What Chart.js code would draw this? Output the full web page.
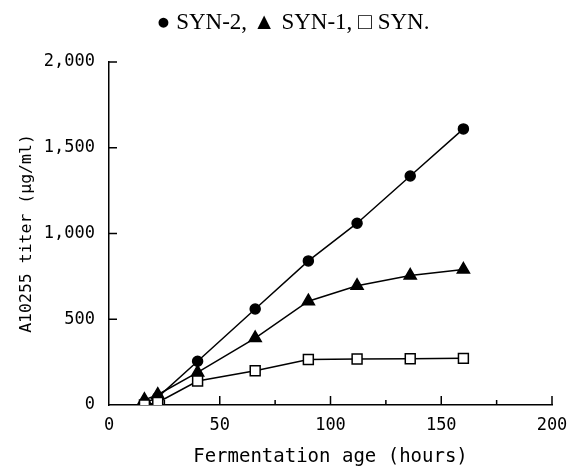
<!DOCTYPE html>
<html>
<head>
<meta charset="utf-8">
<script src="https://cdn.jsdelivr.net/npm/chart.js@4.4.1/dist/chart.umd.min.js"></script>
<style>
  html, body { margin: 0; padding: 0; background: #fff; }
  #wrap { width: 570px; height: 469px; }
</style>
</head>
<body>
<div id="wrap"><canvas id="titerChart"></canvas></div>
<script>
// fermentation age (hours) and A10255 titer (ug/ml)
const hours = [16, 22, 40, 66, 90, 112, 136, 160];
const syn2 = [10, 45, 255, 560, 840, 1060, 1335, 1610];
const syn1 = [30, 60, 190, 390, 605, 695, 755, 790];
const syn = [0, 15, 140, 200, 265, 268, 270, 272];
const xTicks = [0, 50, 100, 150, 200];
const xMinorTicks = [25, 75, 125, 175];
const yTicks = [0, 500, 1000, 1500, 2000];

const toPoints = vals => vals.map((v, i) => ({ x: hours[i], y: v }));

// tick marks point into the plot, like the original figure
const innerTicks = {
  id: 'innerTicks',
  afterDatasetsDraw(chart) {
    const { ctx, scales: { x, y } } = chart;
    ctx.save();
    ctx.strokeStyle = '#000';
    ctx.lineWidth = 1.5;
    ctx.beginPath();
    xTicks.slice(1).forEach(t => {
      const px = x.getPixelForValue(t);
      ctx.moveTo(px, y.bottom);
      ctx.lineTo(px, y.bottom - 9);
    });
    xMinorTicks.forEach(t => {
      const px = x.getPixelForValue(t);
      ctx.moveTo(px, y.bottom);
      ctx.lineTo(px, y.bottom - 5);
    });
    yTicks.slice(1).forEach(t => {
      const py = y.getPixelForValue(t);
      ctx.moveTo(x.left, py);
      ctx.lineTo(x.left + 8, py);
    });
    ctx.stroke();
    ctx.restore();
  }
};

const tickFont = { family: 'DejaVu Sans Mono', size: 17 };
const lineStyle = { borderColor: '#000', borderWidth: 1.5, pointBorderColor: '#000', pointBorderWidth: 1.5, tension: 0 };

new Chart(document.getElementById('titerChart'), {
  type: 'line',
  data: {
    datasets: [
      { label: 'SYN', data: toPoints(syn), ...lineStyle, pointStyle: 'rect', pointRadius: 7, pointBackgroundColor: '#fff' },
      { label: 'SYN-1', data: toPoints(syn1), ...lineStyle, pointStyle: 'triangle', pointRadius: 7, pointBackgroundColor: '#000' },
      { label: 'SYN-2', data: toPoints(syn2), ...lineStyle, pointStyle: 'circle', pointRadius: 5, pointBackgroundColor: '#000' }
    ]
  },
  options: {
    responsive: true,
    maintainAspectRatio: false,
    animation: false,
    layout: { padding: { left: 34, right: 18, top: 0, bottom: 0 } },
    plugins: {
      legend: { display: false },
      tooltip: { enabled: false },
      title: {
        display: true,
        text: '\u25CF SYN-2, \u25B2 SYN-1, \u25A1 SYN.',
        color: '#000',
        font: { family: 'Liberation Serif', size: 23, weight: 'normal' },
        padding: { top: 9.2, bottom: 25.2 }
      }
    },
    scales: {
      x: {
        type: 'linear',
        min: 0,
        max: 200,
        afterBuildTicks: s => { s.ticks = xTicks.map(v => ({ value: v })); },
        afterFit: s => { s.height = 64; s.paddingLeft = 0; s.paddingRight = 0; },
        grid: { display: false, drawTicks: false },
        border: { display: true, color: '#000', width: 1.5 },
        ticks: { color: '#000', font: tickFont, padding: 10, maxRotation: 0 },
        title: {
          display: true,
          text: 'Fermentation age (hours)',
          color: '#000',
          font: { family: 'DejaVu Sans Mono', size: 19 },
          padding: { top: 0, bottom: 1 }
        }
      },
      y: {
        min: 0,
        max: 2000,
        afterBuildTicks: s => { s.ticks = yTicks.map(v => ({ value: v })); },
        afterFit: s => { s.width = 75; },
        grid: { display: false, drawTicks: false },
        border: { display: true, color: '#000', width: 1.5 },
        ticks: { color: '#000', font: tickFont, padding: 14 },
        title: {
          display: true,
          text: 'A10255 titer (\u03BCg/ml)',
          color: '#000',
          font: { family: 'DejaVu Sans Mono', size: 16.5 },
          padding: { top: -16.9, bottom: 0 }
        }
      }
    }
  },
  plugins: [innerTicks]
});
</script>
</body>
</html>
